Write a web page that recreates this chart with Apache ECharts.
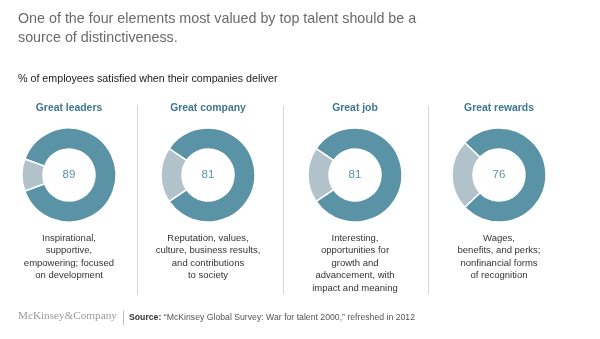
<!DOCTYPE html>
<html><head><meta charset="utf-8">
<script src="https://cdn.jsdelivr.net/npm/echarts@6/dist/echarts.min.js"></script>
<style>html,body{margin:0;padding:0;background:#fff}#c{width:600px;height:339px}</style>
</head><body><div id="c"></div>
<script>
const categories = ["Great leaders", "Great company", "Great job", "Great rewards"];
const satisfied = [89, 81, 81, 76];
const descriptions = [
  "Inspirational,\nsupportive,\nempowering; focused\non development",
  "Reputation, values,\nculture, business results,\nand contributions\nto society",
  "Interesting,\nopportunities for\ngrowth and\nadvancement, with\nimpact and meaning",
  "Wages,\nbenefits, and perks;\nnonfinancial forms\nof recognition"
];
const headline = "One of the four elements most valued by top talent should be a\nsource of distinctiveness.";
const subtitle = "% of employees satisfied when their companies deliver";
const sourceText = "\u201cMcKinsey Global Survey: War for talent 2000,\u201d refreshed in 2012";

const colX = [69, 208, 355, 499];
const donutY = 175;
const dark = '#5b93a6', light = '#b2c2cb', titleColor = '#3e7791';

const chart = echarts.init(document.getElementById('c'), null, {renderer: 'canvas'});
const series = categories.map((c, i) => {
  const v = satisfied[i];
  return {
    type: 'pie', center: [colX[i], donutY], radius: [26, 47],
    startAngle: 180 - (100 - v) * 1.8, clockwise: true,
    silent: true, animation: false,
    itemStyle: {borderColor: '#fff', borderWidth: 1.5},
    labelLine: {show: false},
    data: [
      {value: v, itemStyle: {color: dark},
       label: {show: true, position: 'center', formatter: String(v), color: dark, fontSize: 11.5, fontFamily: 'Liberation Sans, Arial'}},
      {value: 100 - v, itemStyle: {color: light}, label: {show: false}}
    ]
  };
});

const graphic = [
  {type: 'text', left: 18, top: 10, style: {text: headline, fontSize: 14.3, lineHeight: 19, fill: '#6a6a6a', fontFamily: 'Liberation Sans, Arial'}},
  {type: 'text', left: 18, top: 74, style: {text: subtitle, fontSize: 10.7, fill: '#222', fontFamily: 'Liberation Sans, Arial'}},
  {type: 'text', left: 18, top: 311, style: {text: 'McKinsey&Company', fontSize: 11.2, fill: '#9a9a9a', fontFamily: 'Liberation Serif, Times New Roman, serif'}},
  {type: 'line', shape: {x1: 123.5, y1: 311, x2: 123.5, y2: 325}, style: {stroke: '#bbb', lineWidth: 1}},
  {type: 'text', left: 129, top: 313, style: {text: '{b|Source:} ' + sourceText, fontSize: 8.7, fill: '#555', fontFamily: 'Liberation Sans, Arial', rich: {b: {fontWeight: 'bold', fill: '#333', fontSize: 8.7, fontFamily: 'Liberation Sans, Arial'}}}}
];
[137, 283, 428].forEach(x => graphic.push({type: 'line', shape: {x1: x + 0.5, y1: 105, x2: x + 0.5, y2: 295}, style: {stroke: '#d4d4d4', lineWidth: 1}}));
categories.forEach((c, i) => {
  graphic.push({type: 'text', x: colX[i], y: 103, style: {text: c, fontSize: 10.4, fontWeight: 'bold', fill: titleColor, textAlign: 'center', fontFamily: 'Liberation Sans, Arial'}});
  graphic.push({type: 'text', x: colX[i], y: 232, style: {text: descriptions[i], fontSize: 9.5, lineHeight: 12.5, fill: '#333', textAlign: 'center', fontFamily: 'Liberation Sans, Arial'}});
});

chart.setOption({animation: false, series, graphic});
</script></body></html>
